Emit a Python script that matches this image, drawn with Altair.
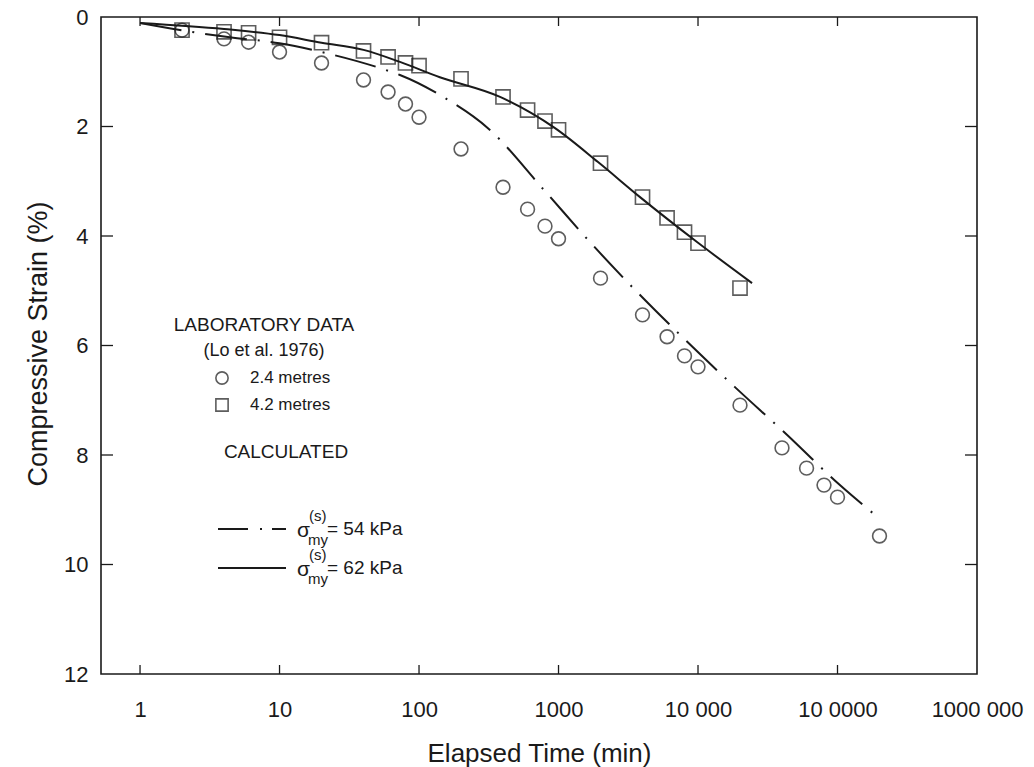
import altair as alt
import pandas as pd

# ---------------- data ----------------
t_obs = [2, 4, 6, 10, 20, 40, 60, 80, 100, 200, 400, 600, 800, 1000, 2000,
         4000, 6000, 8000, 10000, 20000, 40000, 60000, 80000, 100000, 200000]
strain_24m = [0.24, 0.40, 0.46, 0.64, 0.84, 1.15, 1.37, 1.59, 1.83, 2.41, 3.11,
              3.51, 3.82, 4.05, 4.77, 5.44, 5.84, 6.19, 6.39, 7.09, 7.87, 8.24,
              8.55, 8.77, 9.48]
t_obs_42 = t_obs[:20]
strain_42m = [0.24, 0.27, 0.29, 0.37, 0.47, 0.62, 0.73, 0.84, 0.89, 1.13, 1.46,
              1.70, 1.90, 2.06, 2.67, 3.29, 3.67, 3.93, 4.13, 4.95]

t_calc54 = [1, 2.3, 4.4, 10, 20, 55, 73, 149, 312, 787, 1680, 3780, 7680,
            18400, 43400, 104000, 202000]
s_calc54 = [0.11, 0.27, 0.37, 0.48, 0.64, 0.95, 1.06, 1.46, 2.03, 3.16, 4.11,
            5.06, 5.84, 6.76, 7.63, 8.55, 9.17]
t_calc62 = [1, 4, 10, 20, 40, 73, 141, 381, 944, 1920, 3840, 9840, 24400]
s_calc62 = [0.11, 0.22, 0.33, 0.47, 0.60, 0.82, 1.10, 1.46, 2.03, 2.65, 3.29,
            4.11, 4.86]

x_tick_values = [1, 10, 100, 1000, 10000, 100000, 1000000]
x_tick_labels = ["1", "10", "100", "1000", "10 000", "10 0000", "1000 000"]
y_tick_values = [0, 2, 4, 6, 8, 10, 12]

# ---------------- layout ----------------
W, H = 876, 657
FONT = "Liberation Sans"
INK = "#1a1a1a"

df24 = pd.DataFrame({"t": t_obs, "s": strain_24m})
df42 = pd.DataFrame({"t": t_obs_42, "s": strain_42m})
dc54 = pd.DataFrame({"t": t_calc54, "s": s_calc54})
dc62 = pd.DataFrame({"t": t_calc62, "s": s_calc62})

label_expr = " : ".join(
    f"datum.value == {v} ? '{l}'" for v, l in zip(x_tick_values, x_tick_labels)
) + " : ''"

xscale = alt.Scale(type="log", domain=[0.525, 1000000], nice=False)
yscale = alt.Scale(domain=[0, 12], reverse=True, nice=False, zero=False)

xaxis = alt.Axis(values=x_tick_values, labelExpr=label_expr, title="Elapsed Time (min)",
                 grid=False, domain=False, ticks=False, labelFlush=False,
                 labelFont=FONT, labelFontSize=22, labelColor=INK, labelPadding=25,
                 titleFont=FONT, titleFontSize=26, titleFontWeight="normal", titleColor=INK,
                 titleX=W / 2, titleY=87, titleBaseline="alphabetic")
yaxis = alt.Axis(values=y_tick_values, format="d", title="Compressive Strain (%)",
                 grid=False, domain=False, ticks=False, labelFlush=False,
                 labelFont=FONT, labelFontSize=22, labelColor=INK, labelPadding=13,
                 titleFont=FONT, titleFontSize=27, titleFontWeight="normal", titleColor=INK,
                 titleAngle=-90, titleX=-63, titleY=H / 2 - 2, titleBaseline="middle",
                 titleAlign="center")

pts24 = alt.Chart(df24).mark_point(shape="circle", filled=False, size=190,
                                   strokeWidth=1.6, color=INK).encode(
    x=alt.X("t:Q", scale=xscale, axis=xaxis),
    y=alt.Y("s:Q", scale=yscale, axis=yaxis),
)
pts42 = alt.Chart(df42).mark_point(shape="square", filled=False, size=200,
                                   strokeWidth=1.6, color=INK).encode(
    x=alt.X("t:Q"), y=alt.Y("s:Q"))

line54 = alt.Chart(dc54).mark_line(color=INK, strokeWidth=2, interpolate="monotone",
                                   strokeDash=[42, 11, 2, 11]).encode(
    x=alt.X("t:Q"), y=alt.Y("s:Q"))
line62 = alt.Chart(dc62).mark_line(color=INK, strokeWidth=2, interpolate="monotone").encode(
    x=alt.X("t:Q"), y=alt.Y("s:Q"))

# inward ticks
xt = pd.DataFrame({"t": x_tick_values[:-1]})
yt = pd.DataFrame({"s": y_tick_values[1:-1]})
tick_bottom = alt.Chart(xt).mark_rule(color=INK, strokeWidth=1.3).encode(
    x=alt.X("t:Q"), y=alt.value(H), y2=alt.value(H - 9))
tick_top = alt.Chart(xt).mark_rule(color=INK, strokeWidth=1.3).encode(
    x=alt.X("t:Q"), y=alt.value(0), y2=alt.value(9))
tick_left = alt.Chart(yt).mark_rule(color=INK, strokeWidth=1.3).encode(
    y=alt.Y("s:Q"), x=alt.value(0), x2=alt.value(12))
tick_right = alt.Chart(yt).mark_rule(color=INK, strokeWidth=1.3).encode(
    y=alt.Y("s:Q"), x=alt.value(W - 12), x2=alt.value(W))

one = pd.DataFrame({"a": [0]})


def txt(text, x, y, size=17, align="left", baseline="middle"):
    return alt.Chart(one).mark_text(font=FONT, fontSize=size, color=INK, align=align,
                                    baseline=baseline).encode(
        x=alt.value(x), y=alt.value(y), text=alt.value(text))


legend = [
    txt("LABORATORY DATA", 163, 308, 19, "center"),
    txt("(Lo et al. 1976)", 163, 334, 18, "center"),
    alt.Chart(one).mark_point(shape="circle", filled=False, size=150, strokeWidth=1.6,
                              color=INK).encode(x=alt.value(121), y=alt.value(361)),
    txt("2.4 metres", 149, 361, 17),
    alt.Chart(one).mark_point(shape="square", filled=False, size=150, strokeWidth=1.6,
                              color=INK).encode(x=alt.value(121), y=alt.value(388)),
    txt("4.2 metres", 149, 388, 17),
    txt("CALCULATED", 185, 435, 19, "center"),
    alt.Chart(one).mark_rule(color=INK, strokeWidth=2, strokeDash=[30, 12, 2, 10]).encode(
        x=alt.value(117), x2=alt.value(185), y=alt.value(512)),
    txt("σ", 196, 514, 21),
    txt("(s)", 208, 499, 15),
    txt("my", 207, 523, 15),
    txt("= 54 kPa", 226, 512, 19),
    alt.Chart(one).mark_rule(color=INK, strokeWidth=2).encode(
        x=alt.value(117), x2=alt.value(185), y=alt.value(551)),
    txt("σ", 196, 553, 21),
    txt("(s)", 208, 538, 15),
    txt("my", 207, 562, 15),
    txt("= 62 kPa", 226, 551, 19),
]

chart = alt.layer(pts24, pts42, line54, line62, tick_bottom, tick_top, tick_left,
                  tick_right, *legend).properties(
    width=W, height=H,
    autosize=alt.AutoSizeParams(type="none"),
    padding={"left": 101, "top": 17, "right": 57, "bottom": 93},
    background="white",
).configure_view(stroke=INK, strokeWidth=1.6)

chart.save("out.html", embed_options={"renderer": "svg", "actions": False})
